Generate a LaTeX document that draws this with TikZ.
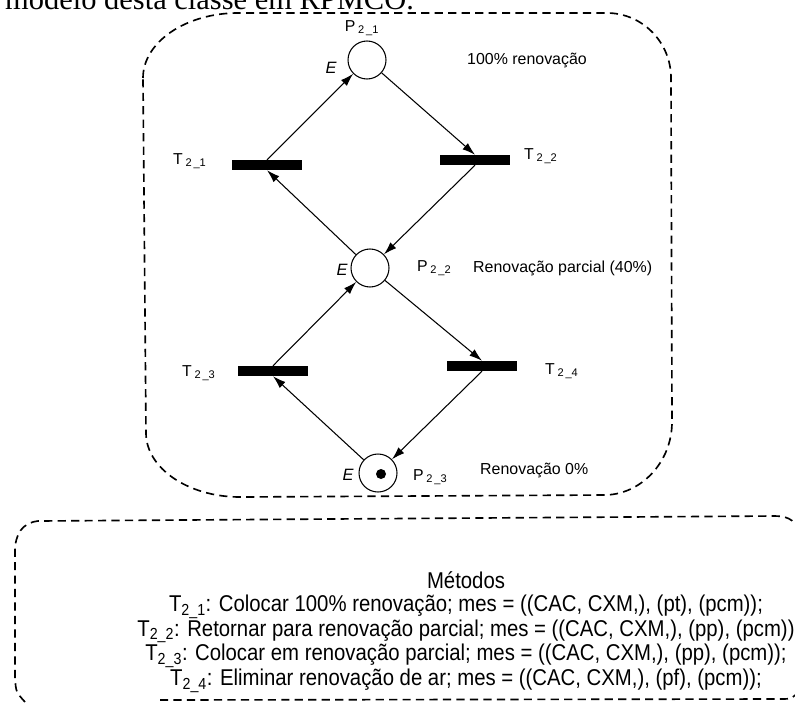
\documentclass[tikz,border=0pt]{standalone}
\usepackage{fontspec}
\setmainfont{Liberation Serif}
\setsansfont{Liberation Sans}
\usetikzlibrary{arrows.meta}
% label with a spaced subscript, e.g. P 2_1
\newcommand{\netlbl}[2]{#1\,\textsubscript{2\,\_#2}}
\begin{document}
\begin{tikzpicture}[x=0.03cm,y=-0.03cm,
  place/.style={circle,draw,line width=0.9pt,minimum size=1.14cm,inner sep=0pt},
  trans/.style={rectangle,fill=black,minimum width=2.1cm,minimum height=0.3cm,inner sep=0pt},
  token/.style={circle,fill=black,minimum size=0.3cm,inner sep=0pt},
  arc/.style={line width=0.9pt,-{Latex[length=11pt,width=7pt]}},
  frame/.style={line width=1.4pt,dash pattern=on 7pt off 4.5pt},
  lbl/.style={font=\sffamily\fontsize{13.5}{15}\selectfont,inner sep=0pt},
  desc/.style={font=\sffamily\fontsize{13.6}{16}\selectfont,inner sep=0pt,anchor=west},
  elbl/.style={font=\sffamily\itshape\fontsize{14}{16}\selectfont,inner sep=0pt},
  methods/.style={font=\sffamily\fontsize{19.5}{19.8}\selectfont,align=center,inner sep=0pt,
    xscale=0.89,transform shape},
]
\useasboundingbox (0,0) rectangle (795,704);
\clip (0,0) rectangle (795,704);

% running text line above the figure
\node[anchor=base west,font=\fontsize{26}{30}\selectfont,inner sep=0pt] (head) at (5,10) {modelo desta classe em RPMCO.};

% dashed frame around the net
\draw[frame] (143,78) .. controls (143,42) and (186,13) .. (238,13) -- (607,13)
  .. controls (642,13) and (671,42) .. (671,78) -- (672,422)
  .. controls (672,462) and (641,495) .. (604,495) -- (240,497)
  .. controls (188,497) and (146,468) .. (146,433) -- cycle;

% dashed frame around the method list
\draw[frame] (25,702) .. controls (16,692) .. (15,678) -- (15,552)
  .. controls (15,534) and (22,523) .. (38,521) -- (775,516)
  .. controls (790,516) and (797,522) .. (800,535);
\draw[frame] (160,700) -- (780,699) .. controls (792,699) .. (800,690);

% places
\node[place] (p1) at (367,60) {};
\node[place] (p2) at (370,268) {};
\node[place] (p3) at (378,473) {};
\node[token] (tok) at (381,474) {};

% transitions
\node[trans] (t1) at (267,165) {};
\node[trans] (t2) at (475,160) {};
\node[trans] (t3) at (273,371) {};
\node[trans] (t4) at (482,366) {};

% arcs
\draw[arc] (t1.north) -- (p1);
\draw[arc] (p1) -- (t2.north);
\draw[arc] (t2.south) -- (p2);
\draw[arc] (p2) -- (t1.south);
\draw[arc] (t3.north) -- (p2);
\draw[arc] (p2) -- (t4.north);
\draw[arc] (t4.south) -- (p3);
\draw[arc] (p3) -- (t3.south);

% place labels
\node[lbl] (lp1) at (362,28) {\netlbl{P}{1}};
\node[lbl,anchor=west] (lp2) at (417,268) {\netlbl{P}{2}};
\node[lbl,anchor=west] (lp3) at (413,477) {\netlbl{P}{3}};
\node[elbl] (e1) at (331,68) {E};
\node[elbl] (e2) at (342,270) {E};
\node[elbl] (e3) at (348,475) {E};

% transition labels
\node[lbl,anchor=west] (lt1) at (173,161) {\netlbl{T}{1}};
\node[lbl,anchor=west] (lt2) at (524,156) {\netlbl{T}{2}};
\node[lbl,anchor=west] (lt3) at (182,373) {\netlbl{T}{3}};
\node[lbl,anchor=west] (lt4) at (545,371) {\netlbl{T}{4}};

% state descriptions
\node[desc] (d1) at (467,60) {100\% renovação};
\node[desc] (d2) at (473,268) {Renovação parcial (40\%)};
\node[desc] (d3) at (480,470) {Renovação 0\%};

% method list
\node[methods] (metodos) at (466,632)
  {Métodos\\
   T\textsubscript{2\_1}: Colocar 100\% renovação; mes = ((CAC, CXM,), (pt), (pcm));\\
   T\textsubscript{2\_2}: Retornar para renovação parcial; mes = ((CAC, CXM,), (pp), (pcm))\\
   T\textsubscript{2\_3}: Colocar em renovação parcial; mes = ((CAC, CXM,), (pp), (pcm));\\
   T\textsubscript{2\_4}: Eliminar renovação de ar; mes = ((CAC, CXM,), (pf), (pcm));};
\end{tikzpicture}
\end{document}
